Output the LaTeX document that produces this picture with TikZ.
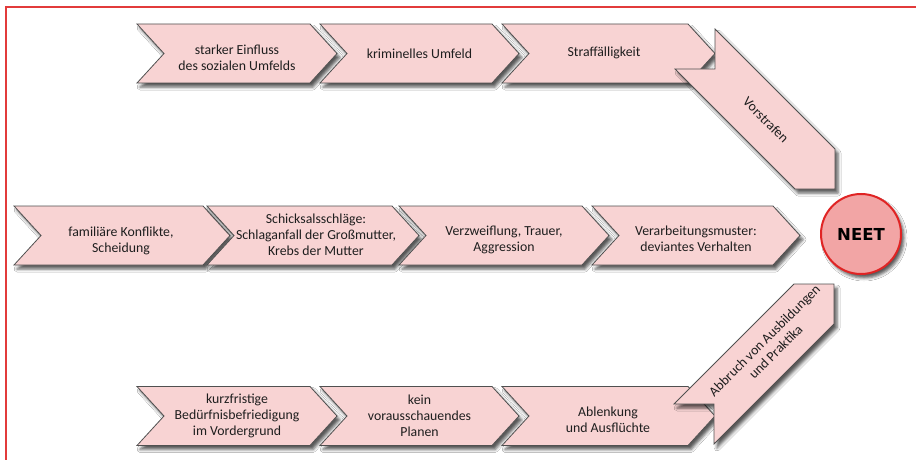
\documentclass[tikz,border=0pt]{standalone}
\usepackage{fontspec}
\setmainfont{Carlito}
\newfontfamily\neetfont{DejaVu Sans}
\usetikzlibrary{shadows.blur}
\definecolor{chevfill}{HTML}{F8D3D3}
\definecolor{chevline}{HTML}{505050}
\definecolor{framered}{HTML}{E23B3B}
\definecolor{neetfill}{HTML}{F2A5A5}
\definecolor{neetline}{HTML}{E02424}
\definecolor{txt}{HTML}{1E1E1E}
\tikzset{
  shad/.style={blur shadow={shadow xshift=3pt, shadow yshift=-4pt, shadow blur radius=3pt, shadow opacity=65}},
  chev/.style={fill=chevfill, draw=chevline, line width=0.8pt, line join=miter, shad},
  lbl/.style={text=txt, align=center, font=\fontsize{13.8}{16}\selectfont, inner sep=0pt},
}
% xl, xr, ymid
\newcommand{\chevshape}[3]{%
  \path[chev] (#1,#3-29.5) -- (#2,#3-29.5) -- (#2+27,#3) -- (#2,#3+29.5) -- (#1,#3+29.5) -- (#1+27,#3) -- cycle;}
\begin{document}
\begin{tikzpicture}[x=1pt,y=-1pt]
\useasboundingbox (0,0) rectangle (916,460);
\fill[white] (0,0) rectangle (916,460);
\draw[framered, line width=1.6pt] (6,460) -- (6,7) -- (916,7);
% row 1
\chevshape{137}{310}{53.5}
\chevshape{320}{492}{53.5}
\chevshape{502}{688}{53.5}
\path[chev] (715,29) -- (835,149) -- (835,189) -- (795,189) -- (675,69) -- (715,69) -- cycle;
% row 2
\chevshape{14}{203}{235.5}
\chevshape{207}{392}{235.5}
\chevshape{399}{582}{235.5}
\chevshape{592}{773}{235.5}
% row 3
\chevshape{137}{310}{416}
\chevshape{320}{492}{416}
\chevshape{502}{688}{416}
\path[chev] (674,404) -- (794,284) -- (834,284) -- (834,324) -- (714,444) -- (714,404) -- cycle;
% NEET
\node[circle, minimum size=80pt, fill=neetfill, draw=neetline, line width=2pt, shad,
  font=\neetfont\bfseries\fontsize{16.5}{17}\selectfont] (neet) at (861,234) {NEET};
% texts
\node[lbl] (t11) at (237,57.5) {starker Einfluss\\des sozialen Umfelds};
\node[lbl] (t12) at (419.5,54) {kriminelles Umfeld};
\node[lbl] (t13) at (604,53) {Straffälligkeit};
\node[lbl, rotate=-45] (t14) at (766,120) {Vorstrafen};
\node[lbl] (t21) at (121,241) {familiäre Konflikte,\\Scheidung};
\node[lbl] (t22) at (316,235) {Schicksalsschläge:\\Schlaganfall der Großmutter,\\Krebs der Mutter};
\node[lbl] (t23) at (504,240) {Verzweiflung, Trauer,\\Aggression};
\node[lbl] (t24) at (696,238.5) {Verarbeitungsmuster:\\deviantes Verhalten};
\node[lbl] (t31) at (237,416) {kurzfristige\\Bedürfnisbefriedigung\\im Vordergrund};
\node[lbl] (t32) at (419.5,416) {kein\\vorausschauendes\\Planen};
\node[lbl] (t33) at (608,419.5) {Ablenkung\\und Ausflüchte};
\node[lbl, rotate=45] (t34) at (770,346) {Abbruch von Ausbildungen\\und Praktika};
\end{tikzpicture}
\end{document}
